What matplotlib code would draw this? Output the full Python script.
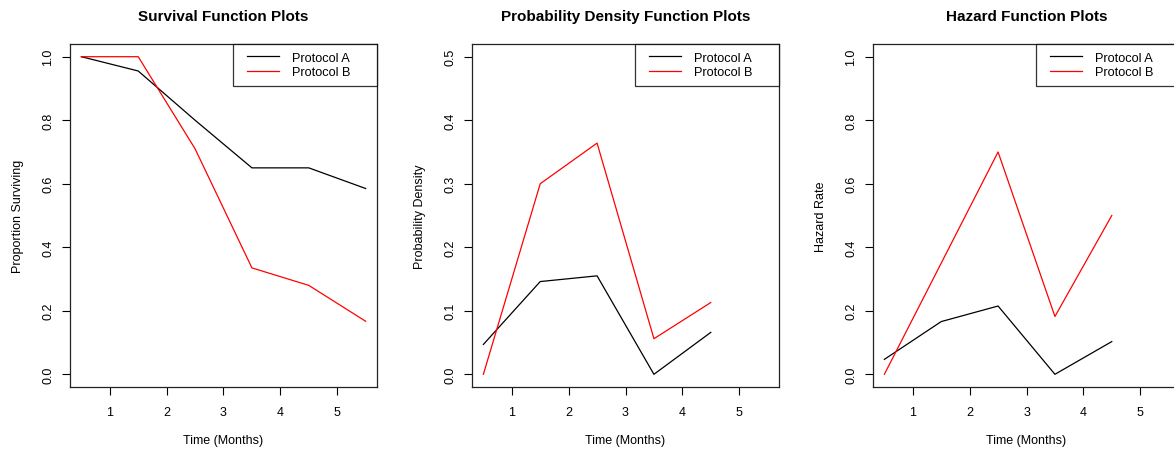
import numpy as np
import matplotlib
matplotlib.use("Agg")
import matplotlib.pyplot as plt
from matplotlib.legend_handler import HandlerLine2D

plt.rcParams['font.family'] = ['Liberation Sans', 'DejaVu Sans']

# interval midpoints (months)
months = [0.5, 1.5, 2.5, 3.5, 4.5, 5.5]

surv_a = [1.0, 0.955, 0.80, 0.65, 0.65, 0.585]
surv_b = [1.0, 1.0, 0.71, 0.335, 0.28, 0.167]

pdf_a = [0.047, 0.146, 0.155, 0.0, 0.066]
pdf_b = [0.0, 0.300, 0.364, 0.056, 0.113]

haz_a = [0.047, 0.166, 0.215, 0.0, 0.103]
haz_b = [0.0, 0.35, 0.70, 0.182, 0.50]

labels = ["Protocol A", "Protocol B"]
titles = ["Survival Function Plots", "Probability Density Function Plots", "Hazard Function Plots"]
ylabels = ["Proportion Surviving", "Probability Density", "Hazard Rate"]

W, H = 1174, 452
fig = plt.figure(figsize=(W / 100, H / 100), dpi=100)

lefts = [70, 472, 873]  # pixel left edges of the plot boxes
top, bottom, width = 45, 388, 307

panels = [(surv_a, surv_b, 1.0, 0.2), (pdf_a, pdf_b, 0.5, 0.1), (haz_a, haz_b, 1.0, 0.2)]

for i in range(3):
    ya, yb, ymax, step = panels[i]
    ax = fig.add_axes([lefts[i] / W, (H - bottom) / H, width / W, (bottom - top) / H])
    la, = ax.plot(months[:len(ya)], ya, color="black", lw=0.9, label=labels[0])
    lb, = ax.plot(months[:len(yb)], yb, color="#ff0000", lw=0.9, label=labels[1])

    ax.set_xlim(0.3, 5.7)
    ax.set_ylim(-0.04 * ymax, 1.04 * ymax)
    ax.set_xticks([1, 2, 3, 4, 5])
    yt = np.arange(0, ymax + step / 2, step)
    ax.set_yticks(yt)
    ax.set_yticklabels(["%.1f" % v for v in yt], rotation=90, va="center")
    ax.tick_params(direction="out", length=5.5, width=0.8, labelsize=9)
    ax.tick_params(axis="y", pad=6)
    ax.tick_params(axis="x", pad=8)
    for s in ax.spines.values():
        s.set_linewidth(0.9)
        s.set_color("#222222")

    ax.set_title(titles[i], fontsize=11, fontweight="bold", pad=17)
    ax.set_xlabel("Time (Months)", fontsize=9)
    ax.xaxis.set_label_coords(0.5, -0.137)
    ax.set_ylabel(ylabels[i], fontsize=9)
    ax.yaxis.set_label_coords(-0.15, 0.5)

    hm = {la: HandlerLine2D(numpoints=2, marker_pad=0.52),
          lb: HandlerLine2D(numpoints=2, marker_pad=0.52)}
    leg = ax.legend(loc="upper left", bbox_to_anchor=(163 / width, 0.0, 1 - 163 / width, 1.0),
                    mode="expand", borderaxespad=0, fontsize=9.2, handlelength=3.5,
                    handletextpad=0.5, borderpad=0.6, labelspacing=0.2, fancybox=False,
                    handler_map=hm)
    leg.get_frame().set_edgecolor("black")
    leg.get_frame().set_linewidth(0.9)

fig.savefig("out.png", dpi=100)
